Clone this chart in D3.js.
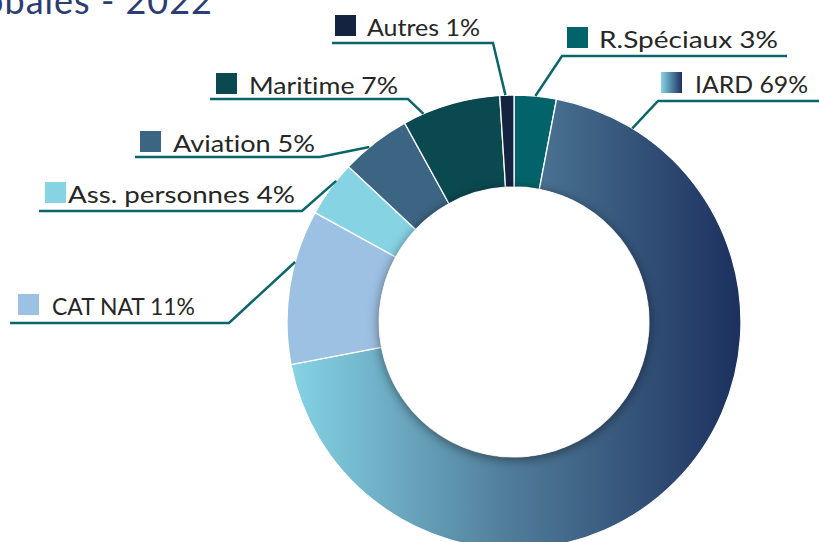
<!DOCTYPE html>
<html>
<head>
<meta charset="utf-8">
<script src="https://cdn.jsdelivr.net/npm/d3@7"></script>
<style>
  body { margin: 0; background: #fff; }
  svg { display: block; }
  text { font-family: Lato, "Open Sans", sans-serif; font-variant-ligatures: none; font-feature-settings: "liga" 0, "clig" 0; }
</style>
</head>
<body>
<svg id="chart" width="819" height="542"></svg>
<script>
(function (d3) {
    'use strict';

    // data
    const categories = ["R.Spéciaux", "IARD", "CAT NAT", "Ass. personnes", "Aviation", "Maritime", "Autres"];
    const shares = [3, 69, 11, 4, 5, 7, 1];
    const colors = ["#03636a", "url(#iardGrad)", "#9dc1e3", "#86d3e4", "#3c6583", "#0a4950", "#14233f"];
    const title = "Primes globales - 2022";

    // label layout: swatch/text position, text width, underline and where the leader meets the ring
    const labelLayout = [
        { x: 567, tx: 599, w: 179, y: 48, lineY: 56, x0: 562, x1: 787, elbow: "left", at: 0.5 },
        { x: 661, tx: 695, w: 113, y: 93, lineY: 101, x0: 658, x1: 819, elbow: "left", at: 0.083 },
        { x: 18, tx: 52, w: 143, y: 315, lineY: 323, x0: 10, x1: 229, elbow: "right", at: 0.66 },
        { x: 45, tx: 68, w: 227, y: 203, lineY: 211, x0: 39, x1: 302, elbow: "right", at: 0.67 },
        { x: 140, tx: 173, w: 142, y: 152, lineY: 157, x0: 135, x1: 320, elbow: "right", at: 0.4 },
        { x: 216, tx: 249, w: 149, y: 94, lineY: 99, x0: 210, x1: 408, elbow: "right", at: 0.21 },
        { x: 335, tx: 367, w: 113, y: 36, lineY: 43, x0: 332, x1: 493, elbow: "right", at: 0.4 }
    ];

    const svg = d3.select("#chart");
    const cx = 514, cy = 322, rOuter = 227, rInner = 135;
    const lineColor = "#0b666b";

    const defs = svg.append("defs");
    // gradient in the donut group's coordinates (centred at 0,0)
    const grad = defs.append("linearGradient")
        .attr("id", "iardGrad")
        .attr("gradientUnits", "userSpaceOnUse")
        .attr("x1", -rOuter).attr("x2", rOuter)
        .attr("y1", 0).attr("y2", 0);
    grad.append("stop").attr("offset", "0%").attr("stop-color", "#86d5e6");
    grad.append("stop").attr("offset", "50%").attr("stop-color", "#4f7b98");
    grad.append("stop").attr("offset", "100%").attr("stop-color", "#1c305e");

    const swatchGrad = defs.append("linearGradient").attr("id", "iardSwatch");
    swatchGrad.append("stop").attr("offset", "0%").attr("stop-color", "#86d5e6");
    swatchGrad.append("stop").attr("offset", "100%").attr("stop-color", "#1c305e");

    const shadow = defs.append("filter").attr("id", "holeShadow")
        .attr("x", "-20%").attr("y", "-20%").attr("width", "140%").attr("height", "140%");
    shadow.append("feDropShadow")
        .attr("dx", 0).attr("dy", 2).attr("stdDeviation", 6)
        .attr("flood-color", "#000").attr("flood-opacity", 0.5);

    // title, mostly cut off at the top
    svg.append("text")
        .attr("x", 213).attr("y", 14)
        .attr("text-anchor", "end")
        .attr("font-size", 36)
        .attr("letter-spacing", 1)
        .attr("fill", "#2b3d72")
        .text(title);

    const pie = d3.pie().sort(null).value(d => d)
        .startAngle(0).endAngle(2 * Math.PI);
    const arcs = pie(shares);

    const arc = d3.arc().innerRadius(rInner).outerRadius(rOuter);

    const g = svg.append("g").attr("transform", `translate(${cx},${cy})`);

    g.selectAll("path.slice")
        .data(arcs)
        .enter().append("path")
        .attr("class", "slice")
        .attr("d", arc)
        .attr("fill", (d, i) => colors[i])
        .attr("stroke", "#fff")
        .attr("stroke-width", 1.3);

    // white hole with soft shadow
    g.append("circle")
        .attr("r", rInner)
        .attr("fill", "#fff")
        .attr("filter", "url(#holeShadow)");

    // leader lines
    const leaders = svg.append("g");
    arcs.forEach((d, i) => {
        const l = labelLayout[i];
        const a = d.startAngle + l.at * (d.endAngle - d.startAngle);
        const px = cx + rOuter * Math.sin(a);
        const py = cy - rOuter * Math.cos(a);
        const pts = l.elbow === "left"
            ? [[px, py], [l.x0, l.lineY], [l.x1, l.lineY]]
            : [[l.x0, l.lineY], [l.x1, l.lineY], [px, py]];
        leaders.append("path")
            .attr("d", d3.line()(pts))
            .attr("fill", "none")
            .attr("stroke", lineColor)
            .attr("stroke-width", 2.5);
    });

    // legend labels
    const labels = svg.append("g").selectAll("g")
        .data(categories)
        .enter().append("g");

    labels.append("rect")
        .attr("x", (d, i) => labelLayout[i].x)
        .attr("y", (d, i) => labelLayout[i].y - 21)
        .attr("width", 21).attr("height", 21)
        .attr("fill", (d, i) => i === 1 ? "url(#iardSwatch)" : colors[i]);

    labels.append("text")
        .attr("x", (d, i) => labelLayout[i].tx)
        .attr("y", (d, i) => labelLayout[i].y)
        .attr("font-size", 24)
        .attr("textLength", (d, i) => labelLayout[i].w)
        .attr("lengthAdjust", "spacingAndGlyphs")
        .attr("fill", "#262626")
        .text((d, i) => `${d} ${shares[i]}%`);

}(d3));
</script>
</body>
</html>
